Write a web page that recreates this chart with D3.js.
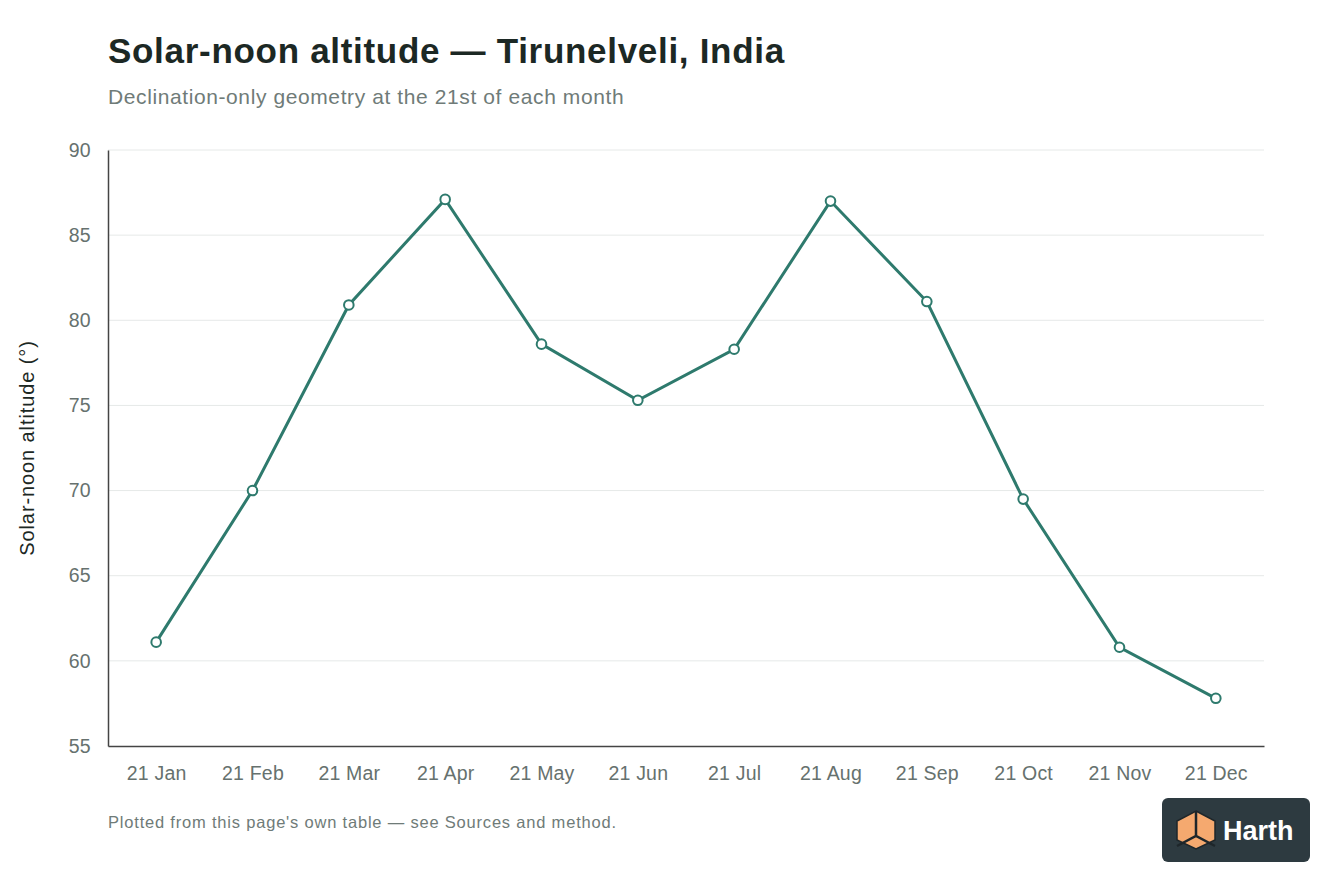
<!DOCTYPE html>
<html>
<head>
<meta charset="utf-8">
<script src="https://cdn.jsdelivr.net/npm/d3@7"></script>
<style>
  body { margin: 0; background: #fff; }
  svg { display: block; font-family: "Liberation Sans", Arial, sans-serif; }
</style>
</head>
<body>
<svg id="chart" width="1344" height="896"></svg>
<script>
let months = ["21 Jan", "21 Feb", "21 Mar", "21 Apr", "21 May", "21 Jun",
              "21 Jul", "21 Aug", "21 Sep", "21 Oct", "21 Nov", "21 Dec"];
let altitude = [61.1, 70.0, 80.9, 87.1, 78.6, 75.3, 78.3, 87.0, 81.1, 69.5, 60.8, 57.8];
let yTicks = [55, 60, 65, 70, 75, 80, 85, 90];

let svg = d3.select("#chart");

let margin = { top: 150, right: 80, bottom: 150, left: 108 };
let plotWidth = 1344 - margin.left - margin.right;
let plotHeight = 896 - margin.top - margin.bottom;

let x = d3.scalePoint()
  .domain(months)
  .range([0, plotWidth])
  .padding(0.5);
let y = d3.scaleLinear()
  .domain([55, 90])
  .range([plotHeight, 0]);

let plot = svg.append("g")
  .attr("transform", "translate(" + margin.left + "," + margin.top + ")");

// gridlines
plot.append("g")
  .selectAll("line")
  .data(yTicks.slice(1))
  .enter().append("line")
  .attr("x1", 0)
  .attr("x2", plotWidth)
  .attr("y1", d => y(d))
  .attr("y2", d => y(d))
  .attr("stroke", "#e6e9e8")
  .attr("stroke-width", 1);

// axes
let yAxis = plot.append("g")
  .call(d3.axisLeft(y).tickValues(yTicks).tickSize(0).tickPadding(17));
yAxis.select(".domain").attr("stroke", "#444").attr("stroke-width", 1.5);
yAxis.selectAll("text")
  .style("font-size", "19.5px")
  .style("letter-spacing", "0.3px")
  .attr("fill", "#66716e");

let xAxis = plot.append("g")
  .attr("transform", "translate(0," + plotHeight + ")")
  .call(d3.axisBottom(x).tickSize(0).tickPadding(20));
xAxis.select(".domain").attr("stroke", "#444").attr("stroke-width", 1.5);
xAxis.selectAll("text")
  .style("font-size", "19.5px")
  .style("letter-spacing", "0.2px")
  .attr("fill", "#66716e");

// line + markers
let line = d3.line()
  .x((d, i) => x(months[i]))
  .y(d => y(d));

plot.append("path")
  .attr("d", line(altitude))
  .attr("fill", "none")
  .attr("stroke", "#2e7a6d")
  .attr("stroke-width", 3);

plot.selectAll(".dot")
  .data(altitude)
  .enter().append("circle")
  .attr("class", "dot")
  .attr("cx", (d, i) => x(months[i]))
  .attr("cy", d => y(d))
  .attr("r", 4.8)
  .attr("fill", "#fff")
  .attr("stroke", "#2e7a6d")
  .attr("stroke-width", 2);

// titles
svg.append("text")
  .attr("x", 108)
  .attr("y", 63)
  .style("font-size", "35px")
  .style("font-weight", "bold")
  .style("letter-spacing", "0.7px")
  .attr("fill", "#1c2824")
  .text("Solar-noon altitude — Tirunelveli, India");

svg.append("text")
  .attr("x", 108)
  .attr("y", 104)
  .style("font-size", "21px")
  .style("letter-spacing", "0.6px")
  .attr("fill", "#6f7b78")
  .text("Declination-only geometry at the 21st of each month");

svg.append("text")
  .attr("transform", "translate(34," + (margin.top + plotHeight / 2) + ") rotate(-90)")
  .style("text-anchor", "middle")
  .style("font-size", "20px")
  .style("letter-spacing", "0.9px")
  .attr("fill", "#1c2824")
  .text("Solar-noon altitude (°)");

svg.append("text")
  .attr("x", 108)
  .attr("y", 828)
  .style("font-size", "16.5px")
  .style("letter-spacing", "0.8px")
  .attr("fill", "#6f7b78")
  .text("Plotted from this page's own table — see Sources and method.");

// logo badge
let logo = svg.append("g").attr("transform", "translate(1162,798)");
logo.append("rect")
  .attr("width", 148)
  .attr("height", 64)
  .attr("rx", 6)
  .attr("fill", "#2d3a40");
let cx = 34, cy = 32;
let hex = [[cx, cy - 19], [cx + 19, cy - 9], [cx + 19, cy + 10], [cx, cy + 19],
           [cx - 19, cy + 10], [cx - 19, cy - 9]];
logo.append("polygon")
  .attr("points", hex.map(p => p.join(",")).join(" "))
  .attr("fill", "#f5a96f")
  .attr("stroke", "#1e262a")
  .attr("stroke-width", 1.5);
logo.append("path")
  .attr("d", "M" + cx + "," + (cy - 19) + "V" + (cy + 6) +
             "M" + (cx - 19) + "," + (cy + 16) + "L" + cx + "," + (cy + 6) + "L" + (cx + 19) + "," + (cy + 16))
  .attr("fill", "none")
  .attr("stroke", "#1e262a")
  .attr("stroke-width", 2.5);
logo.append("text")
  .attr("x", 61)
  .attr("y", 42)
  .style("font-size", "27px")
  .style("font-weight", "bold")
  .attr("fill", "#fff")
  .text("Harth");
</script>
</body>
</html>
